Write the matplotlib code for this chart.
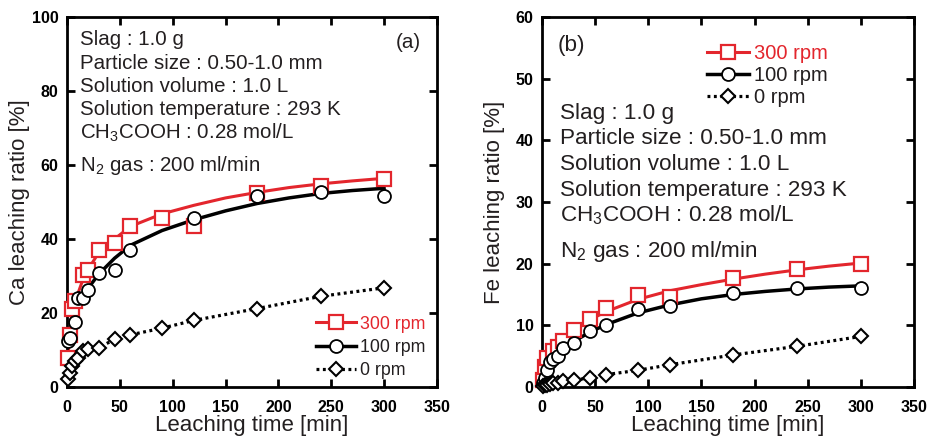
import matplotlib
matplotlib.use("Agg")
import matplotlib.pyplot as plt
from matplotlib.lines import Line2D

plt.rcParams['font.family'] = ['Liberation Sans', 'DejaVu Sans']
plt.rcParams['mathtext.fontset'] = 'custom'
plt.rcParams['mathtext.rm'] = 'Liberation Sans'

RED = '#e3262d'
TXT = '#231f20'

# ---- panel (a) Ca: measured points
ca_t_300 = [1, 3, 5, 7.5, 15, 20, 30, 45, 60, 90, 120, 180, 240, 300]
ca_y_300 = [7.8, 14.1, 21.1, 23.3, 30.3, 31.7, 37.0, 39.0, 43.4, 45.8, 43.4, 52.3, 54.4, 56.3]
ca_t_100 = [1, 3, 7.5, 10, 15, 20, 30, 45, 60, 120, 180, 240, 300]
ca_y_100 = [12.4, 13.2, 17.5, 24.0, 24.0, 26.2, 30.9, 31.5, 37.1, 45.7, 51.6, 52.8, 51.5]
ca_t_0 = [1, 3, 5, 7.5, 10, 15, 20, 30, 45, 60, 90, 120, 180, 240, 300]
ca_y_0 = [2.2, 3.8, 5.6, 7.0, 7.8, 9.8, 10.3, 10.6, 12.9, 14.1, 15.9, 18.0, 21.2, 24.5, 26.8]

# fitted curves
fit_t = [1, 3, 5, 7.5, 10, 15, 20, 30, 45, 60, 90, 120, 150, 180, 210, 240, 270, 300]
ca_fit_300 = [8.5, 16.0, 20.5, 23.0, 25.0, 29.0, 31.8, 36.3, 40.0, 43.4, 46.8, 49.1, 51.1, 52.6, 53.9, 54.9, 55.7, 56.4]
ca_fit_100 = [12.0, 14.0, 16.5, 18.8, 21.0, 24.3, 26.7, 30.5, 34.8, 38.3, 42.3, 45.2, 47.6, 49.6, 51.1, 52.3, 53.1, 53.7]

# ---- panel (b) Fe: measured points
fe_t_300 = [1, 3, 5, 10, 15, 20, 30, 45, 60, 90, 120, 180, 240, 300]
fe_y_300 = [1.2, 3.3, 4.7, 5.8, 6.5, 7.4, 9.3, 11.0, 12.8, 14.9, 14.6, 17.7, 19.1, 20.0]
fe_t_100 = [1, 3, 5, 7.5, 10, 15, 20, 30, 45, 60, 90, 120, 180, 240, 300]
fe_y_100 = [0.6, 1.5, 2.8, 4.1, 4.5, 5.0, 6.4, 7.1, 9.1, 10.1, 12.6, 13.2, 15.2, 16.0, 16.0]
fe_t_0 = [1, 3, 5, 7.5, 10, 15, 20, 30, 45, 60, 90, 120, 180, 240, 300]
fe_y_0 = [0.2, 0.3, 0.4, 0.5, 0.6, 0.7, 0.9, 1.1, 1.5, 2.0, 2.7, 3.6, 5.2, 6.6, 8.2]

fe_fit_300 = [1.5, 3.3, 4.4, 5.3, 6.0, 6.9, 7.7, 9.2, 10.9, 12.2, 14.2, 15.6, 16.6, 17.5, 18.3, 19.0, 19.6, 20.1]
fe_fit_100 = [0.6, 1.6, 2.5, 3.4, 4.1, 5.1, 6.0, 7.4, 8.9, 10.1, 12.0, 13.3, 14.3, 15.0, 15.5, 15.9, 16.2, 16.4]

labels = ['300 rpm', '100 rpm', '0 rpm']
cond_lines = ['Slag : 1.0 g',
              'Particle size : 0.50-1.0 mm',
              'Solution volume : 1.0 L',
              'Solution temperature : 293 K',
              r'CH$_{\rm 3}$COOH : 0.28 mol/L',
              r'N$_{\rm 2}$ gas : 200 ml/min']


def draw_panel(ax, t300, y300, t100, y100, t0, y0, f300, f100, ymax, ystep, ylabel):
    ax.plot(fit_t, f300, color=RED, lw=2.2, zorder=2)
    ax.plot(fit_t, f100, color='k', lw=2.5, zorder=2)
    ax.plot(t0, y0, color='k', lw=2.3, ls=(0, (0.9, 1.1)), zorder=2)
    ax.plot(t300, y300, ls='none', marker='s', ms=9.8, mfc='white', mec=RED, mew=1.6, zorder=3, clip_on=False)
    ax.plot(t100, y100, ls='none', marker='o', ms=9.3, mfc='white', mec='k', mew=1.3, zorder=4, clip_on=False)
    ax.plot(t0, y0, ls='none', marker='D', ms=6.8, mfc='white', mec='k', mew=1.5, zorder=4, clip_on=False)

    ax.set_xlim(0, 350)
    ax.set_ylim(0, ymax)
    ax.set_xticks(range(0, 351, 50))
    ax.set_yticks(range(0, ymax + 1, ystep))
    ax.tick_params(direction='in', length=6, width=2, top=True, right=True, labelsize=11.5)
    ax.tick_params(axis='x', pad=9.5)
    ax.tick_params(axis='y', pad=6)
    for lab in ax.get_xticklabels() + ax.get_yticklabels():
        lab.set_fontweight('bold')
    for sp in ax.spines.values():
        sp.set_linewidth(2)
    ax.set_xlabel('Leaching time [min]', fontsize=16, color=TXT)
    ax.xaxis.set_label_coords(0.5, -0.077)
    ax.set_ylabel(ylabel, fontsize=16, color=TXT)
    ax.yaxis.set_label_coords(-0.1, 0.5)


fig = plt.figure(figsize=(9.27, 4.36), dpi=100)
ax1 = fig.add_axes([0.0723, 0.1124, 0.399, 0.8486])
ax2 = fig.add_axes([0.5847, 0.1124, 0.4013, 0.8486])

# (a)
draw_panel(ax1, ca_t_300, ca_y_300, ca_t_100, ca_y_100, ca_t_0, ca_y_0,
           ca_fit_300, ca_fit_100, 100, 20, 'Ca leaching ratio [%]')
for i, s in enumerate(cond_lines):
    yb = 92.3 - 6.3 * i - (2.5 if i == 5 else 0)
    ax1.text(12.3, yb, s, fontsize=14.8, va='baseline', ha='left', color=TXT)
ax1.text(335, 91.5, '(a)', fontsize=14.8, va='baseline', ha='right', color=TXT)

# (b)
draw_panel(ax2, fe_t_300, fe_y_300, fe_t_100, fe_y_100, fe_t_0, fe_y_0,
           fe_fit_300, fe_fit_100, 60, 10, 'Fe leaching ratio [%]')
for i, s in enumerate(cond_lines):
    yb = 43.5 - 4.15 * i - (1.7 if i == 5 else 0)
    ax2.text(17.2, yb, s, fontsize=16.2, va='baseline', ha='left', color=TXT)
ax2.text(14.4, 54.5, '(b)', fontsize=16.2, va='baseline', ha='left', color=TXT)

handles = [
    Line2D([], [], color=RED, lw=2.2, marker='s', ms=9.8, mfc='white', mec=RED, mew=1.6),
    Line2D([], [], color='k', lw=2.5, marker='o', ms=9.3, mfc='white', mec='k', mew=1.3),
    Line2D([], [], color='k', lw=2.3, ls=(0, (0.9, 1.1)), marker='D', ms=6.8, mfc='white', mec='k', mew=1.5),
]
ax1.legend(handles, labels, loc='upper left', bbox_to_anchor=(0.672, 0.193), frameon=False,
           fontsize=12.8, handlelength=2.3, handletextpad=0.2, labelspacing=0.35,
           borderpad=0, borderaxespad=0, labelcolor=[RED, TXT, TXT])
ax2.legend(handles, labels, loc='upper left', bbox_to_anchor=(0.444, 0.926), frameon=False,
           fontsize=14.5, handlelength=2.1, handletextpad=0.2, labelspacing=0.15,
           borderpad=0, borderaxespad=0, labelcolor=[RED, TXT, TXT])

fig.savefig('out.png', dpi=100)
